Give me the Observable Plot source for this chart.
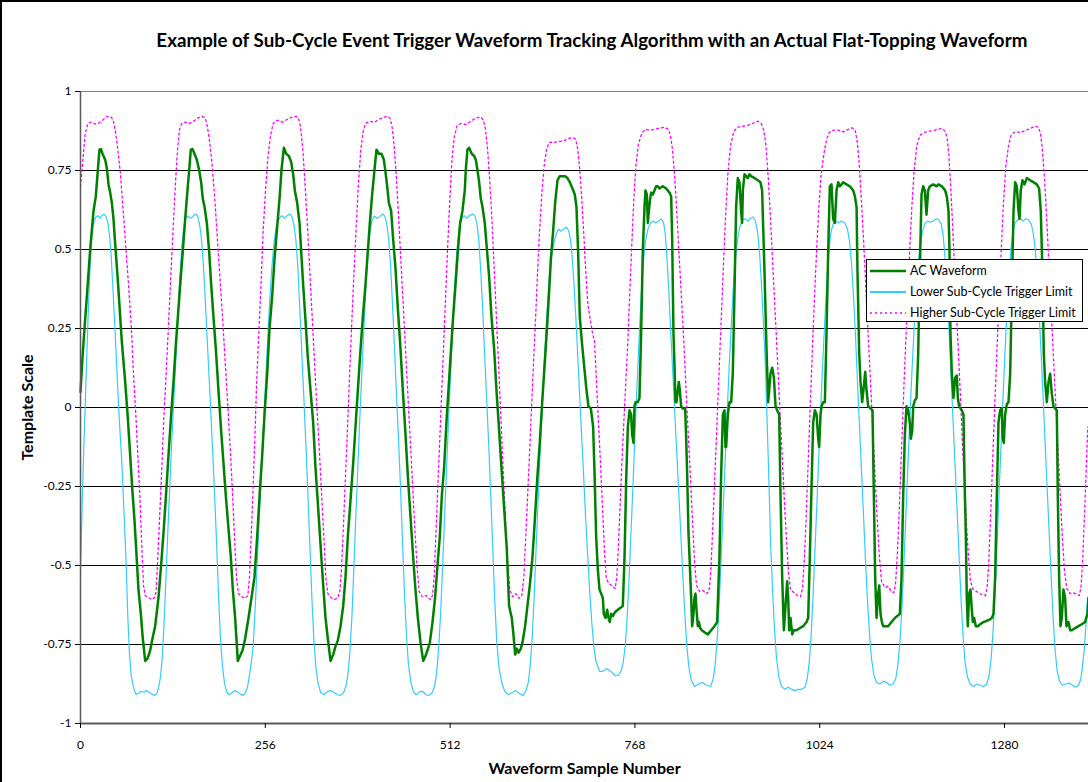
<!DOCTYPE html>
<html><head><meta charset="utf-8">
<script src="https://cdn.jsdelivr.net/npm/d3@7"></script>
<script src="https://cdn.jsdelivr.net/npm/@observablehq/plot@0.6"></script>
<style>
html,body{margin:0;padding:0;background:#fff;overflow:hidden;width:1088px;height:782px}
#wrap{position:relative;width:1088px;height:782px;overflow:hidden}
#frame{position:absolute;left:0;top:0;width:1300px;height:900px;border-left:2px solid #000;border-top:2px solid #000;box-sizing:border-box;pointer-events:none}
#title{position:absolute;left:0;width:1184px;top:30px;text-align:center;font-family:Lato,"Open Sans",sans-serif;font-weight:bold;font-size:18px;line-height:20px;white-space:nowrap;color:#000}
#title span{display:inline-block;transform-origin:50% 50%}
#chart{position:absolute;left:0;top:0}
#legend{position:absolute;left:866px;top:259px;width:217px;height:63px;border:1px solid #000;background:#fff;box-sizing:border-box;font-family:Lato,"Open Sans",sans-serif;font-size:12.5px;color:#000}
#legend .row{position:absolute;left:0;height:20px;width:100%}
#legend svg{position:absolute;left:2px;top:0}
#legend .lab{position:absolute;left:43px;top:2px;white-space:nowrap}
g[aria-label="y-axis label"] text, g[aria-label="x-axis label"] text{font-weight:bold;font-size:16px}
</style>
</head><body>
<div id="wrap">
<div id="chart"></div>
<div id="title"><span>Example of Sub-Cycle Event Trigger Waveform Tracking Algorithm with an Actual Flat-Topping Waveform</span></div>
<div id="legend"></div>
<div id="frame"></div>
</div>
<script>
const titleText = "Example of Sub-Cycle Event Trigger Waveform Tracking Algorithm with an Actual Flat-Topping Waveform";
const xLabel = "Waveform Sample Number";
const yLabel = "Template Scale";
const seriesNames = ["AC Waveform", "Lower Sub-Cycle Trigger Limit", "Higher Sub-Cycle Trigger Limit"];
const xTicks = [0, 256, 512, 768, 1024, 1280];
const yTicks = [-1, -0.75, -0.5, -0.25, 0, 0.25, 0.5, 0.75, 1];
const gridLevels = [-0.75, -0.5, -0.25, 0, 0.25, 0.5, 0.75];

// [sample number, value]
const acWave = [[0,0.049],[2.8,0.159],[5.5,0.249],[8.8,0.352],[13.4,0.5],[18,0.622],[21.2,0.668],[24,0.751],[26.3,0.816],[28.2,0.818],[30.5,0.803],[34.2,0.784],[36.5,0.758],[38.8,0.706],[41.1,0.68],[43.4,0.648],[45.7,0.597],[48,0.519],[51.7,0.403],[55,0.287],[57.2,0.21],[61.9,0.081],[65.6,-0.035],[68.8,-0.151],[72,-0.267],[74.8,-0.357],[77.1,-0.447],[80.3,-0.576],[83.6,-0.653],[86.3,-0.731],[89.6,-0.802],[92.8,-0.795],[96.5,-0.769],[99.7,-0.731],[103.4,-0.692],[108,-0.602],[111.7,-0.499],[115.4,-0.383],[118.7,-0.267],[121.9,-0.151],[125.6,-0.022],[128.8,0.081],[132,0.197],[135.7,0.313],[139,0.416],[141.7,0.494],[145,0.597],[148.2,0.687],[151,0.764],[152.8,0.816],[155.1,0.818],[157.9,0.803],[161.1,0.784],[164.4,0.751],[167.1,0.713],[169.4,0.661],[171.8,0.635],[175,0.584],[178.2,0.494],[181,0.39],[184.2,0.287],[187.5,0.184],[191.1,0.055],[194.8,-0.073],[198.1,-0.177],[201.3,-0.28],[205,-0.383],[208.2,-0.473],[211,-0.576],[214.2,-0.666],[217.9,-0.802],[221.2,-0.785],[224.4,-0.769],[228.1,-0.731],[232.7,-0.666],[237,-0.6],[241,-0.537],[244.7,-0.409],[248.4,-0.267],[251.7,-0.151],[254.9,-0.022],[258.6,0.107],[261.8,0.249],[265.5,0.352],[268.7,0.468],[272.4,0.571],[275.7,0.661],[278.4,0.751],[281.7,0.822],[284.9,0.803],[288.6,0.796],[291.8,0.777],[294.6,0.738],[296.9,0.687],[300.1,0.648],[303.4,0.584],[305.7,0.494],[308.4,0.39],[311.7,0.274],[314.9,0.159],[318.6,0.055],[322.3,-0.048],[325.5,-0.189],[329.2,-0.318],[332.5,-0.434],[336.2,-0.563],[339.4,-0.666],[342.6,-0.731],[346.3,-0.802],[350,-0.782],[353.2,-0.756],[356.5,-0.737],[360.2,-0.692],[363.9,-0.628],[367.1,-0.537],[370.3,-0.409],[374,-0.293],[377.7,-0.177],[380.9,-0.061],[384.2,0.055],[387.9,0.184],[391.1,0.287],[394.8,0.39],[398,0.494],[400.8,0.584],[404,0.674],[407.2,0.751],[410,0.816],[413.3,0.803],[417,0.803],[420.2,0.784],[422.5,0.745],[424.8,0.7],[427.1,0.648],[430.3,0.622],[433.1,0.532],[436.3,0.442],[439.6,0.313],[443.3,0.184],[446.5,0.055],[450.2,-0.086],[453.4,-0.215],[457.1,-0.344],[460.8,-0.473],[464,-0.576],[467.3,-0.666],[471,-0.744],[474.7,-0.802],[477.4,-0.789],[480.6,-0.769],[483.9,-0.744],[487.6,-0.679],[491.2,-0.602],[494.5,-0.499],[497.7,-0.409],[500.5,-0.28],[503.7,-0.189],[506.9,-0.048],[509.7,0.055],[512.9,0.171],[516.2,0.287],[519.9,0.403],[523.1,0.506],[525.9,0.584],[529.1,0.622],[532.3,0.687],[533.7,0.751],[536,0.816],[538.3,0.822],[542,0.803],[545.3,0.796],[547.6,0.784],[549.9,0.751],[552.2,0.713],[554.5,0.661],[556.8,0.635],[560,0.584],[562.3,0.519],[566,0.416],[569.3,0.287],[573,0.184],[576.2,0.055],[579.9,-0.073],[583.1,-0.189],[586.8,-0.318],[590.5,-0.447],[593.7,-0.628],[597.4,-0.666],[599.7,-0.718],[602.1,-0.782],[604.4,-0.763],[606.7,-0.776],[609.9,-0.763],[612.2,-0.744],[615.9,-0.692],[619.1,-0.628],[622.4,-0.563],[626.1,-0.473],[629.3,-0.357],[633,-0.215],[636.2,-0.112],[639.9,0.03],[643.6,0.159],[646.8,0.274],[649.1,0.365],[651.5,0.468],[654.7,0.558],[657.5,0.648],[660.7,0.719],[663.9,0.732],[667.6,0.732],[671.3,0.732],[674.5,0.726],[677.8,0.713],[681.5,0.693],[684.7,0.674],[687,0.635],[689.3,0.494],[691.6,0.287],[694.4,0.21],[697.6,0.133],[700.9,0.055],[703.6,0.004],[706.9,-0.003],[710.1,-0.061],[712,-0.202],[714.3,-0.409],[716.6,-0.512],[718.9,-0.576],[721.2,-0.589],[723.5,-0.602],[724.9,-0.653],[727.2,-0.666],[729.5,-0.64],[731.4,-0.666],[733.2,-0.679],[735.1,-0.653],[737.4,-0.66],[740.6,-0.647],[744.3,-0.64],[748,-0.634],[751.2,-0.628],[753.6,-0.473],[755.9,-0.228],[758.2,-0.061],[760.5,-0.009],[762.8,-0.022],[764.2,-0.086],[766,-0.112],[767.4,0.004],[768.8,0.017],[772,0.017],[774.3,0.03],[776.6,0.236],[778.9,0.494],[781.3,0.635],[782.6,0.687],[784.5,0.674],[785.9,0.584],[787.3,0.622],[789.1,0.661],[790.5,0.68],[792.8,0.674],[795.1,0.687],[797.4,0.7],[799.7,0.7],[802,0.693],[806.6,0.7],[811.3,0.693],[815.9,0.68],[818.2,0.668],[819.6,0.532],[821.4,0.236],[822.8,0.133],[824.2,0.017],[825.6,0.017],[827.4,0.055],[828.8,0.081],[830.2,0.055],[832,0.004],[834.3,-0.003],[837.6,-0.003],[839,-0.099],[840.4,-0.215],[842.2,-0.396],[843.6,-0.473],[845.9,-0.602],[847.3,-0.692],[849.1,-0.653],[850.5,-0.602],[851.9,-0.589],[853.3,-0.64],[855.1,-0.692],[856.5,-0.679],[858.4,-0.698],[860.7,-0.705],[864.4,-0.711],[869,-0.718],[873.6,-0.705],[878.2,-0.692],[881.9,-0.679],[885.1,-0.473],[887.4,-0.215],[889.8,-0.022],[892.1,-0.009],[893.4,-0.125],[894.4,-0.125],[896.7,-0.022],[899,0.017],[901.3,0.017],[903.6,0.107],[905.9,0.365],[908.2,0.635],[910.5,0.726],[912.8,0.713],[915.1,0.622],[916.5,0.584],[917.5,0.687],[919.8,0.738],[922.1,0.732],[924.4,0.726],[926.7,0.738],[929,0.732],[933.6,0.726],[938.2,0.719],[941.9,0.713],[944.2,0.687],[947.5,0.429],[950.3,0.184],[952.6,0.017],[955.8,0.107],[958.2,0.126],[960.5,0.094],[962.8,0.004],[965.1,-0.009],[967.8,-0.022],[969.7,-0.28],[972,-0.537],[974.3,-0.705],[976.6,-0.628],[978.9,-0.55],[980.3,-0.602],[981.7,-0.705],[983.5,-0.666],[985.9,-0.718],[988.2,-0.705],[991.9,-0.705],[996.5,-0.698],[1001.1,-0.692],[1005.7,-0.679],[1008,-0.666],[1010.3,-0.473],[1012.6,-0.254],[1014.9,-0.048],[1017.2,-0.009],[1019.6,-0.022],[1021.9,-0.099],[1023.2,-0.125],[1025.1,-0.022],[1026.5,0.004],[1028.8,0.017],[1031.1,0.017],[1033.4,0.236],[1035.7,0.494],[1038,0.7],[1040.3,0.706],[1042.6,0.597],[1044.9,0.584],[1047.3,0.687],[1049.6,0.713],[1051.9,0.7],[1054.2,0.706],[1056.5,0.713],[1061.1,0.706],[1065.7,0.7],[1070.3,0.687],[1072.7,0.668],[1075,0.635],[1076.3,0.429],[1078.7,0.171],[1080.5,0.081],[1082.8,0.017],[1085.1,0.068],[1087,0.113],[1088.8,0.055],[1091.1,0.004],[1094.4,-0.003],[1097.1,-0.009],[1099,-0.28],[1100.8,-0.537],[1102.7,-0.666],[1105,-0.589],[1106.4,-0.563],[1108.2,-0.653],[1110.1,-0.679],[1111.9,-0.692],[1115.6,-0.692],[1118.8,-0.692],[1123.4,-0.679],[1128.1,-0.666],[1135,-0.653],[1137.3,-0.537],[1139.6,-0.28],[1141.9,-0.086],[1144.2,0.004],[1146.5,-0.009],[1148.8,-0.048],[1150.2,-0.099],[1152.1,-0.073],[1153.5,0.004],[1155.8,0.023],[1158.1,0.03],[1160.4,0.171],[1162.7,0.442],[1165,0.674],[1167.3,0.7],[1169.6,0.687],[1171.9,0.61],[1174.2,0.687],[1176.5,0.7],[1181.2,0.706],[1185.8,0.7],[1188.5,0.706],[1193.1,0.7],[1197.7,0.687],[1200,0.668],[1202.4,0.622],[1203.7,0.494],[1205.1,0.236],[1207,0.107],[1209.3,0.03],[1211.6,0.094],[1213.9,0.101],[1215.3,0.03],[1217.1,0.004],[1220.8,-0.009],[1223.1,-0.022],[1224.5,-0.215],[1226.4,-0.409],[1227.7,-0.602],[1229.1,-0.692],[1231,-0.589],[1232.8,-0.576],[1234.7,-0.64],[1236.1,-0.679],[1237.9,-0.666],[1240.2,-0.692],[1243,-0.692],[1246.2,-0.686],[1250.8,-0.679],[1257.8,-0.673],[1262.4,-0.666],[1264.7,-0.653],[1267,-0.537],[1269.3,-0.28],[1271.6,-0.048],[1273.9,-0.009],[1276.2,-0.003],[1277.6,-0.099],[1279,-0.112],[1280.8,-0.022],[1283.1,0.01],[1285.5,0.017],[1287.8,0.107],[1290.1,0.365],[1292.4,0.622],[1294.7,0.713],[1297,0.7],[1299.3,0.622],[1300.7,0.597],[1302.5,0.687],[1304.8,0.719],[1307.6,0.706],[1310.9,0.726],[1315.5,0.719],[1320.1,0.713],[1324.7,0.706],[1327.9,0.693],[1330.2,0.622],[1332.5,0.429],[1334.4,0.171],[1336.2,0.081],[1338.6,0.017],[1340.9,0.081],[1343.2,0.107],[1345.5,0.043],[1347.8,0.004],[1350.1,-0.003],[1352.4,-0.009],[1353.8,-0.28],[1355.6,-0.537],[1357.5,-0.692],[1359.3,-0.666],[1361.6,-0.576],[1363.9,-0.602],[1365.8,-0.692],[1368.6,-0.679],[1370.9,-0.705],[1373.2,-0.705],[1377.8,-0.698],[1382.4,-0.692],[1387,-0.686],[1391.6,-0.679],[1394.9,-0.653],[1396.3,-0.602]];

const lowerLimit = [[0,-0.524],[1.9,-0.344],[4.2,-0.151],[6.5,0.004],[8.8,0.171],[11.1,0.326],[13.4,0.455],[15.7,0.545],[18,0.584],[21.2,0.603],[24,0.607],[26.8,0.599],[29.5,0.607],[32.8,0.612],[35.6,0.603],[37.9,0.584],[40.2,0.545],[42.5,0.481],[45.2,0.365],[48,0.236],[51.2,0.081],[54,-0.048],[57.3,-0.177],[60.5,-0.344],[63.3,-0.499],[65.6,-0.666],[67.9,-0.782],[70.2,-0.847],[73.4,-0.885],[76.6,-0.908],[80.3,-0.905],[84,-0.898],[87.7,-0.901],[91.4,-0.896],[95.1,-0.901],[98.8,-0.907],[102.5,-0.911],[105.7,-0.905],[108,-0.888],[110.3,-0.86],[112.7,-0.808],[115,-0.718],[117.3,-0.602],[120,-0.447],[122.8,-0.294],[126,-0.125],[128.8,0.004],[131.6,0.133],[134.4,0.262],[137.1,0.39],[139.9,0.494],[142.7,0.564],[145.4,0.597],[148.7,0.606],[151.9,0.599],[155.1,0.603],[158.8,0.612],[162.1,0.607],[164.4,0.586],[166.7,0.552],[169,0.494],[171.8,0.39],[174.5,0.262],[177.3,0.133],[180.1,0.004],[182.8,-0.125],[185.6,-0.267],[188.4,-0.421],[191.1,-0.589],[193.9,-0.731],[196.7,-0.821],[199.5,-0.872],[202.7,-0.901],[206.4,-0.909],[210.5,-0.901],[214.2,-0.896],[217.9,-0.901],[221.6,-0.907],[225.3,-0.911],[228.5,-0.903],[231.3,-0.885],[233.6,-0.853],[236.4,-0.81],[239.2,-0.756],[242.4,-0.615],[245.7,-0.447],[248.9,-0.28],[252.1,-0.125],[255.4,0.03],[258.6,0.184],[261.8,0.326],[265,0.442],[268.3,0.526],[271.5,0.577],[275.2,0.599],[278.9,0.607],[282.6,0.599],[286.3,0.607],[290,0.612],[292.8,0.604],[295.5,0.581],[298.3,0.532],[301.1,0.442],[303.8,0.313],[306.6,0.171],[309.4,0.03],[312.1,-0.112],[314.9,-0.267],[317.7,-0.434],[320.5,-0.602],[323.2,-0.731],[326,-0.821],[329.2,-0.875],[332.9,-0.903],[337.1,-0.909],[341.7,-0.899],[346.3,-0.896],[350.9,-0.901],[355.5,-0.909],[360.2,-0.911],[364.3,-0.903],[367.5,-0.883],[370.3,-0.847],[373.1,-0.776],[375.9,-0.666],[378.6,-0.512],[381.4,-0.344],[384.2,-0.189],[386.9,-0.035],[389.7,0.107],[392.5,0.249],[395.2,0.378],[398,0.481],[400.8,0.552],[403.6,0.59],[406.8,0.606],[410.5,0.599],[414.2,0.603],[417.9,0.612],[421.1,0.607],[423.9,0.586],[426.6,0.539],[429.4,0.455],[432.2,0.326],[435,0.184],[437.7,0.043],[440.5,-0.099],[443.3,-0.254],[446,-0.421],[448.8,-0.589],[451.6,-0.724],[454.3,-0.814],[457.6,-0.87],[461.3,-0.901],[465.4,-0.909],[470,-0.899],[473.7,-0.898],[478.3,-0.909],[482.9,-0.911],[487.6,-0.901],[490.8,-0.879],[493.6,-0.834],[496.3,-0.756],[499.1,-0.64],[501.9,-0.486],[504.6,-0.331],[507.4,-0.177],[510.2,-0.022],[512.9,0.12],[515.7,0.262],[518.5,0.39],[521.3,0.494],[524.5,0.564],[527.7,0.597],[531.4,0.607],[535.1,0.599],[538.8,0.607],[543,0.612],[546.2,0.607],[549,0.584],[551.7,0.532],[554.5,0.429],[557.3,0.3],[560,0.159],[562.8,0.017],[565.6,-0.125],[568.3,-0.28],[571.1,-0.447],[573.9,-0.615],[576.7,-0.744],[579.9,-0.827],[583.6,-0.872],[587.7,-0.898],[592.8,-0.909],[598.4,-0.901],[603,-0.896],[608.5,-0.906],[613.1,-0.911],[616.8,-0.898],[620.1,-0.872],[622.8,-0.821],[625.6,-0.731],[628.4,-0.602],[631.1,-0.447],[633.9,-0.293],[636.7,-0.138],[639.5,0.004],[642.2,0.133],[645.5,0.274],[648.7,0.39],[651.9,0.468],[655.1,0.513],[658.4,0.545],[662.1,0.564],[665.3,0.558],[669,0.564],[673.2,0.571],[675.9,0.561],[678.2,0.539],[680.5,0.494],[683.3,0.403],[686.1,0.287],[688.9,0.159],[691.6,0.03],[694.4,-0.099],[697.2,-0.228],[699.9,-0.357],[702.7,-0.473],[705.5,-0.589],[708.2,-0.679],[711,-0.756],[713.8,-0.8],[716.5,-0.82],[719.4,-0.836],[724,-0.834],[729.5,-0.827],[735.1,-0.836],[740.6,-0.849],[745.2,-0.847],[748.9,-0.834],[751.7,-0.808],[754.5,-0.756],[757.2,-0.666],[760,-0.537],[762.8,-0.383],[765.6,-0.228],[768.3,-0.073],[771.1,0.081],[773.9,0.223],[776.6,0.352],[779.4,0.455],[782.6,0.526],[785.9,0.564],[789.6,0.584],[793.3,0.59],[797,0.584],[800.6,0.59],[804.3,0.597],[807.6,0.586],[809.9,0.552],[812.2,0.481],[815,0.365],[817.7,0.236],[820.5,0.107],[823.3,-0.022],[826,-0.144],[828.8,-0.273],[831.6,-0.402],[834.3,-0.531],[837.1,-0.653],[839.9,-0.756],[842.7,-0.821],[845.9,-0.862],[850.5,-0.883],[856,-0.875],[861.6,-0.87],[867.1,-0.879],[872.7,-0.883],[876.4,-0.86],[879.1,-0.814],[881.9,-0.737],[884.7,-0.621],[887.4,-0.479],[890.2,-0.325],[893,-0.17],[895.8,-0.015],[898.5,0.126],[901.3,0.255],[904.1,0.371],[906.8,0.461],[910.1,0.53],[913.3,0.573],[917,0.594],[920.7,0.597],[924.4,0.59],[928.1,0.599],[931.8,0.603],[935,0.59],[937.8,0.558],[940.5,0.494],[943.3,0.39],[946.1,0.262],[948.9,0.12],[951.2,-0.05],[953.6,-0.23],[955.8,-0.421],[958.6,-0.576],[961.4,-0.705],[964.2,-0.795],[967.4,-0.853],[971.1,-0.883],[975.7,-0.892],[980.3,-0.885],[984.9,-0.892],[989.5,-0.896],[994.2,-0.892],[998.8,-0.892],[1003.4,-0.885],[1006.6,-0.86],[1009.4,-0.808],[1012.2,-0.718],[1014.9,-0.589],[1017.7,-0.434],[1020.5,-0.28],[1023.2,-0.125],[1026,0.03],[1028.8,0.171],[1031.6,0.3],[1034.3,0.416],[1037.1,0.506],[1039.9,0.558],[1042.6,0.581],[1046.3,0.59],[1050,0.584],[1054.2,0.59],[1058.8,0.584],[1062.5,0.564],[1065.3,0.526],[1068,0.455],[1070.8,0.352],[1073.6,0.223],[1076.3,0.081],[1079.1,-0.061],[1081.9,-0.202],[1084.7,-0.344],[1087.4,-0.486],[1090.2,-0.615],[1093,-0.718],[1095.7,-0.795],[1099,-0.847],[1102.7,-0.87],[1107.3,-0.875],[1111.9,-0.866],[1116.5,-0.87],[1121.1,-0.879],[1125.7,-0.875],[1129.4,-0.857],[1132.2,-0.814],[1135,-0.744],[1137.7,-0.64],[1140.5,-0.499],[1143.3,-0.344],[1146.1,-0.189],[1148.8,-0.035],[1151.6,0.107],[1154.4,0.236],[1157.1,0.352],[1159.9,0.442],[1162.7,0.506],[1165.9,0.552],[1169.6,0.581],[1173.3,0.59],[1177.5,0.586],[1181.2,0.59],[1185.8,0.597],[1188.5,0.594],[1192.2,0.581],[1195,0.545],[1197.7,0.468],[1200.5,0.365],[1203.3,0.236],[1206,0.094],[1208.8,-0.048],[1211.6,-0.189],[1214.4,-0.331],[1217.1,-0.473],[1219.9,-0.615],[1222.7,-0.731],[1225.4,-0.808],[1228.7,-0.853],[1232.4,-0.875],[1237,-0.883],[1241.6,-0.875],[1246.2,-0.879],[1250.8,-0.883],[1255.4,-0.875],[1258.7,-0.847],[1261.4,-0.795],[1264.2,-0.705],[1267,-0.576],[1269.8,-0.421],[1272.5,-0.267],[1275.3,-0.112],[1278.1,0.043],[1280.8,0.184],[1283.6,0.313],[1286.4,0.429],[1289.1,0.506],[1291.9,0.558],[1294.7,0.584],[1298.4,0.594],[1302.1,0.597],[1305.8,0.59],[1309.5,0.597],[1313.2,0.594],[1316.9,0.581],[1319.6,0.555],[1322.4,0.504],[1325.2,0.416],[1327.9,0.3],[1330.7,0.171],[1333.5,0.03],[1336.2,-0.112],[1339,-0.254],[1341.8,-0.396],[1344.6,-0.537],[1347.3,-0.666],[1350.1,-0.769],[1352.9,-0.834],[1356.1,-0.866],[1360.2,-0.879],[1364.9,-0.875],[1369.5,-0.872],[1374.1,-0.879],[1378.7,-0.885],[1382.4,-0.879],[1385.6,-0.86],[1387.9,-0.821],[1390.3,-0.769],[1392.6,-0.692],[1394.9,-0.602]];

const higherLimit = [[0,0.7],[2.8,0.771],[6.5,0.867],[10.2,0.899],[14.8,0.903],[20.3,0.897],[24.9,0.899],[30.5,0.909],[36.5,0.921],[42.5,0.919],[45.2,0.909],[48,0.88],[51.7,0.816],[55.4,0.738],[59.1,0.622],[62.8,0.506],[66.5,0.39],[70.2,0.262],[73.4,0.107],[76.6,-0.022],[79.4,-0.151],[82.2,-0.28],[85,-0.447],[87.3,-0.563],[89.6,-0.595],[94.2,-0.602],[98.8,-0.608],[102.5,-0.602],[104.8,-0.582],[107.1,-0.473],[109.4,-0.357],[112.7,-0.189],[115.4,-0.035],[118.7,0.107],[121.9,0.262],[125.1,0.416],[128.4,0.571],[131.6,0.713],[134.4,0.816],[137.1,0.88],[140.4,0.899],[145,0.903],[150.5,0.898],[156.5,0.906],[162.5,0.916],[169,0.921],[172.7,0.916],[175.4,0.893],[178.2,0.854],[181.9,0.777],[185.6,0.674],[189.3,0.545],[193,0.416],[196.7,0.287],[200.4,0.146],[204.1,0.004],[207.3,-0.125],[210.5,-0.267],[213.3,-0.409],[216.1,-0.537],[218.8,-0.589],[223.5,-0.599],[228.1,-0.604],[231.8,-0.595],[234.1,-0.537],[236,-0.43],[238.8,-0.27],[241.5,-0.1],[243.8,0.068],[247,0.236],[250.3,0.403],[253,0.558],[256.3,0.687],[259.5,0.79],[263.2,0.861],[266.9,0.899],[272.4,0.909],[279.4,0.903],[286.3,0.912],[293.2,0.919],[299.2,0.921],[302.4,0.912],[304.8,0.887],[308,0.816],[311.2,0.7],[314.5,0.571],[317.7,0.429],[320.9,0.287],[324.1,0.146],[327.4,0.004],[330.6,-0.125],[333.8,-0.267],[337.1,-0.409],[339.8,-0.537],[342.6,-0.589],[347.2,-0.602],[351.9,-0.608],[356.5,-0.602],[359.2,-0.582],[361.5,-0.512],[364.3,-0.37],[367.1,-0.215],[369.9,-0.061],[372.6,0.094],[375.4,0.249],[378.6,0.416],[381.9,0.571],[385.1,0.713],[388.3,0.816],[391.6,0.874],[394.8,0.899],[400.8,0.906],[407.3,0.903],[413.7,0.912],[420.2,0.919],[425.7,0.921],[428.5,0.916],[431.3,0.893],[434,0.841],[437.3,0.738],[440.5,0.61],[443.7,0.468],[447,0.326],[450.2,0.184],[453.4,0.043],[456.7,-0.099],[459.9,-0.241],[463.1,-0.383],[466.4,-0.512],[469.1,-0.582],[473.3,-0.599],[479.2,-0.595],[484.8,-0.608],[487.6,-0.595],[489.9,-0.537],[492.2,-0.409],[494.9,-0.254],[497.7,-0.099],[500.5,0.055],[503.2,0.21],[506,0.365],[508.8,0.519],[511.6,0.661],[514.3,0.777],[517.6,0.854],[521.3,0.89],[526.8,0.899],[533.7,0.895],[540.6,0.906],[547.6,0.916],[554.5,0.919],[558.2,0.909],[561,0.88],[563.7,0.822],[566.5,0.732],[569.3,0.622],[572,0.494],[574.8,0.352],[577.6,0.21],[580.4,0.068],[583.1,-0.073],[585.9,-0.215],[588.7,-0.357],[591.4,-0.486],[594.7,-0.576],[598.4,-0.599],[603,-0.589],[607.6,-0.604],[611.3,-0.595],[614.1,-0.537],[616.8,-0.409],[619.6,-0.267],[622.4,-0.125],[625.1,0.017],[627.9,0.159],[630.7,0.3],[633.4,0.442],[636.2,0.571],[639,0.674],[642.2,0.764],[645.5,0.816],[649.1,0.839],[656.1,0.839],[663,0.842],[669.9,0.844],[676.9,0.852],[682.4,0.854],[686.1,0.848],[688.9,0.816],[691.6,0.751],[694.4,0.661],[697.2,0.545],[699.9,0.429],[702.7,0.33],[705.5,0.287],[709.2,0.236],[712,0.21],[714.8,0.081],[717.5,-0.048],[720.3,-0.177],[723.1,-0.318],[725.9,-0.46],[728.2,-0.537],[731.4,-0.557],[736,-0.563],[740.6,-0.573],[742.9,-0.537],[745.2,-0.434],[747.6,-0.305],[749.9,-0.177],[752.6,-0.048],[755.4,0.081],[758.2,0.21],[760.9,0.365],[763.7,0.519],[766.5,0.661],[769.3,0.764],[772.9,0.835],[777.6,0.867],[782.2,0.88],[788.2,0.878],[795.1,0.88],[802,0.884],[809,0.887],[814.5,0.88],[817.3,0.861],[820,0.816],[822.8,0.738],[825.6,0.635],[828.3,0.519],[831.1,0.403],[833.9,0.287],[836.7,0.159],[839.4,0.03],[842.2,-0.099],[845,-0.228],[847.7,-0.357],[850.5,-0.486],[853.3,-0.563],[857.4,-0.582],[862.1,-0.579],[866.7,-0.589],[870.4,-0.582],[872.7,-0.537],[875,-0.421],[877.3,-0.293],[880.1,-0.138],[882.8,0.017],[885.6,0.171],[888.4,0.326],[891.1,0.479],[893.9,0.622],[896.7,0.738],[900.4,0.829],[905,0.874],[910.5,0.887],[917.5,0.89],[924.4,0.893],[931.3,0.899],[938.2,0.906],[942.9,0.899],[946.1,0.88],[948.9,0.841],[950.3,0.803],[953.1,0.713],[955.8,0.597],[958.6,0.468],[961.4,0.339],[964.2,0.21],[966.9,0.081],[969.7,-0.048],[972.5,-0.177],[975.2,-0.305],[978,-0.421],[980.8,-0.524],[983.5,-0.576],[988.2,-0.586],[992.8,-0.595],[997.4,-0.599],[1000.2,-0.57],[1002.5,-0.486],[1004.8,-0.37],[1007.1,-0.228],[1009.4,-0.086],[1011.7,0.055],[1014,0.197],[1016.8,0.352],[1019.6,0.494],[1022.8,0.635],[1026,0.738],[1029.7,0.803],[1033.4,0.848],[1037.1,0.87],[1042.6,0.878],[1049.6,0.878],[1056.5,0.872],[1063.4,0.88],[1069.4,0.885],[1073.1,0.878],[1075.9,0.841],[1078.7,0.771],[1081.4,0.668],[1084.2,0.552],[1087,0.423],[1089.7,0.294],[1092.5,0.165],[1095.3,0.036],[1098,-0.093],[1100.8,-0.222],[1103.6,-0.351],[1106.4,-0.466],[1109.6,-0.55],[1114.2,-0.57],[1118.8,-0.566],[1123.4,-0.582],[1126.7,-0.586],[1129,-0.557],[1131.3,-0.473],[1133.6,-0.357],[1135.9,-0.222],[1138.2,-0.08],[1140.5,0.062],[1143.3,0.216],[1146.1,0.365],[1148.8,0.507],[1151.6,0.635],[1154.8,0.751],[1158.5,0.829],[1162.7,0.861],[1168.2,0.87],[1174.7,0.874],[1181.2,0.876],[1186.7,0.88],[1193.1,0.883],[1197.7,0.874],[1200.5,0.852],[1202.8,0.803],[1205.1,0.713],[1207.9,0.584],[1210.7,0.442],[1213.4,0.3],[1216.2,0.171],[1219,0.03],[1221.7,-0.112],[1224.5,-0.241],[1227.3,-0.37],[1230.1,-0.473],[1232.8,-0.55],[1236.5,-0.576],[1241.1,-0.582],[1245.8,-0.589],[1250.4,-0.595],[1253.6,-0.595],[1255.9,-0.57],[1258.2,-0.486],[1260.5,-0.357],[1262.8,-0.215],[1265.1,-0.073],[1267.5,0.068],[1270.2,0.223],[1273,0.378],[1275.8,0.519],[1278.5,0.648],[1281.8,0.764],[1285.5,0.829],[1289.1,0.861],[1294.7,0.874],[1301.6,0.87],[1308.5,0.876],[1315.5,0.883],[1322.4,0.89],[1327,0.887],[1329.8,0.867],[1332.5,0.816],[1335.3,0.726],[1338.1,0.61],[1340.9,0.481],[1343.6,0.352],[1346.4,0.223],[1349.2,0.094],[1351.9,-0.035],[1354.7,-0.164],[1357.5,-0.293],[1360.2,-0.415],[1363,-0.518],[1366.3,-0.573],[1370.9,-0.589],[1375.5,-0.586],[1380.1,-0.592],[1383.8,-0.595],[1386.1,-0.563],[1388.4,-0.473],[1390.7,-0.344],[1393,-0.202],[1395.3,-0.061]];

const colors = ["#008000", "#33CCFF", "#FF00FF"];
const toRows = arr => arr.map(([x, y]) => ({x, y}));

const chart = Plot.plot({
  width: 1088,
  height: 782,
  marginTop: 91,
  marginBottom: 59,
  marginLeft: 80,
  marginRight: 0,
  style: {fontFamily: "Lato, 'Open Sans', sans-serif", fontSize: "12px", color: "#000", background: "transparent"},
  x: {domain: [0, 1396.3]},
  y: {domain: [-1, 1]},
  marks: [
    Plot.ruleY(gridLevels, {stroke: "#000", strokeWidth: 1}),
    Plot.ruleY([1], {stroke: "#808080", strokeWidth: 1}),
    Plot.line(toRows(lowerLimit), {x: "x", y: "y", stroke: colors[1], strokeWidth: 1.2}),
    Plot.line(toRows(higherLimit), {x: "x", y: "y", stroke: colors[2], strokeWidth: 1.3, strokeDasharray: "2,3"}),
    Plot.line(toRows(acWave), {x: "x", y: "y", stroke: colors[0], strokeWidth: 2.5}),
    Plot.ruleY([-1], {stroke: "#5a5a5a", strokeWidth: 2}),
    Plot.ruleX([0], {stroke: "#5a5a5a", strokeWidth: 1.5}),
    Plot.axisY({ticks: yTicks, tickSize: 5, tickPadding: 4, tickFormat: d => String(d), label: yLabel, labelAnchor: "center", labelOffset: 59, labelArrow: "none"}),
    Plot.axisX({ticks: xTicks, tickSize: 5, tickPadding: 12, tickFormat: d => String(d), label: xLabel, labelAnchor: "center", labelOffset: 50, labelArrow: "none"})
  ]
});
document.getElementById("chart").appendChild(chart);

// legend
const legend = document.getElementById("legend");
seriesNames.forEach((name, i) => {
  const row = document.createElement("div");
  row.className = "row";
  row.style.top = (i * 21 + 1) + "px";
  const dash = i === 2 ? ' stroke-dasharray="2,3"' : '';
  const sw = i === 0 ? 2.5 : (i === 1 ? 2 : 1.6);
  row.innerHTML = `<svg width="38" height="20"><line x1="1" y1="10" x2="37" y2="10" stroke="${colors[i]}" stroke-width="${sw}"${dash}/></svg><span class="lab">${name}</span>`;
  legend.appendChild(row);
});

// fit title width
const span = document.querySelector("#title span");
span.textContent = titleText;
const w = span.getBoundingClientRect().width;
span.style.transform = `scaleX(${871 / w})`;
</script>
</body></html>
